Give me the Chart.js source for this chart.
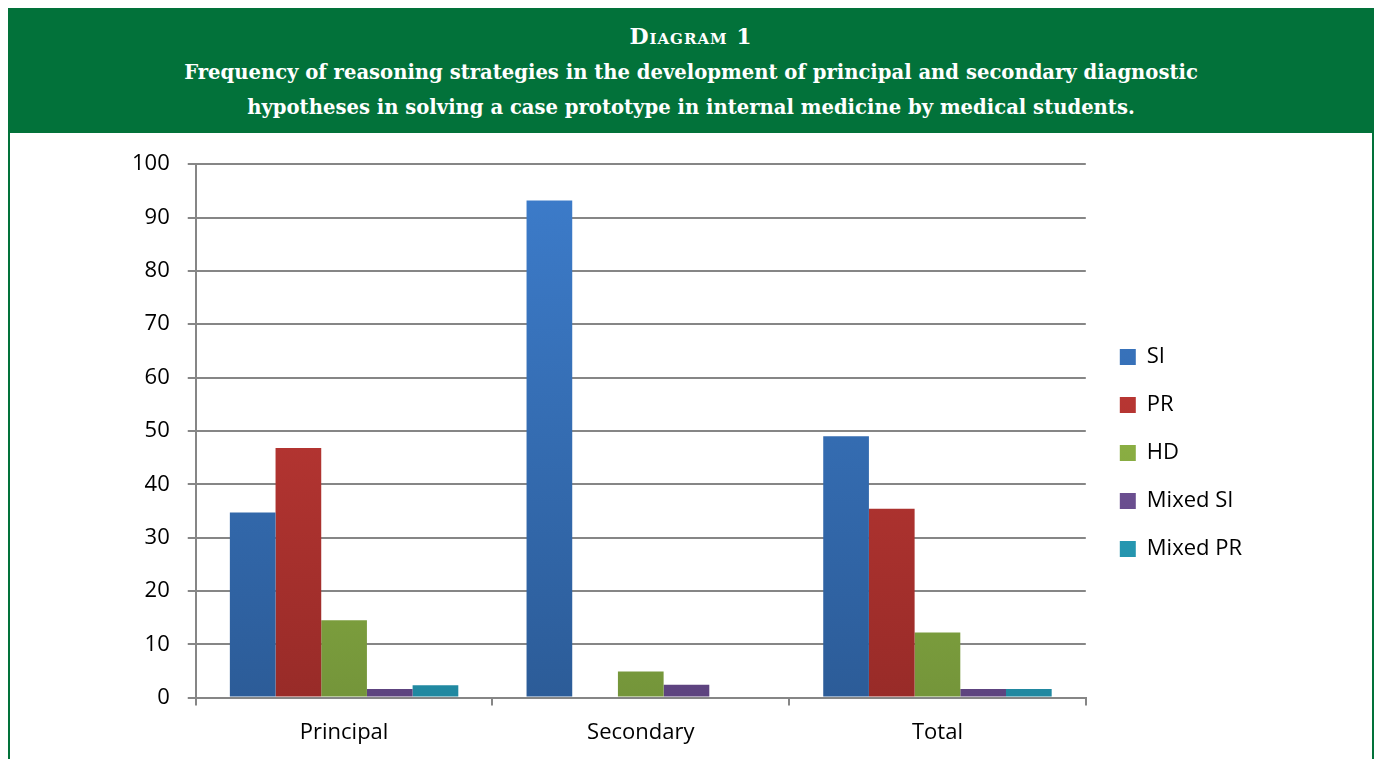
<!DOCTYPE html>
<html>
<head>
<meta charset="utf-8">
<script src="https://cdn.jsdelivr.net/npm/chart.js@4"></script>
<style>
  body { margin: 0; background: #fff; width: 1378px; height: 759px; overflow: hidden; }
  #frame { position: absolute; left: 8px; top: 8px; width: 1362px; height: 760px; border-left: 2px solid #02723a; border-right: 2px solid #02723a; }
  #header { position: absolute; left: 0; top: 0; width: 1362px; height: 125px; background: #02723a; color: #fff;
            font-family: "DejaVu Serif", serif; font-weight: bold; text-align: center; }
  #header .cap { position: absolute; top: 15px; width: 100%; font-size: 22px; font-variant: small-caps; letter-spacing: 1px; }
  #header .l1 { position: absolute; top: 53px; width: 100%; font-size: 19.6px; }
  #header .l2 { position: absolute; top: 88px; width: 100%; font-size: 19.6px; }
  #wrap { position: absolute; left: 0; top: 125px; width: 1362px; height: 634px; }
</style>
</head>
<body>
<div id="frame">
  <div id="header">
    <div class="cap">Diagram 1</div>
    <div class="l1">Frequency of reasoning strategies in the development of principal and secondary diagnostic</div>
    <div class="l2">hypotheses in solving a case prototype in internal medicine by medical students.</div>
  </div>
  <div id="wrap"><canvas id="chart"></canvas></div>
</div>
<script>
// Categories and series
const categories = ['Principal', 'Secondary', 'Total'];
const si      = [34.7, 93.2, 49.0];
const pr      = [46.8, 0,    35.4];
const hd      = [14.5, 4.9,  12.2];
const mixedSi = [1.6,  2.4,  1.6];
const mixedPr = [2.3,  0,    1.6];

// vertical gradient, lighter on top like the Excel bars
function grad(top, bottom) {
  return function (context) {
    const chart = context.chart;
    const area = chart.chartArea;
    if (!area) return bottom;
    const g = chart.ctx.createLinearGradient(0, area.bottom, 0, area.top);
    g.addColorStop(0, bottom);
    g.addColorStop(1, top);
    return g;
  };
}

// nudge the legend up and a bit to the right
const legendShift = {
  id: 'legendShift',
  afterLayout(chart) {
    chart.legend.top -= 9;
    chart.legend.bottom -= 9;
    chart.legend.left += 8;
    chart.legend.right += 8;
  }
};

const ctx = document.getElementById('chart').getContext('2d');
const chart = new Chart(ctx, {
  type: 'bar',
  data: {
    labels: categories,
    datasets: [
      { label: 'SI',       data: si,      backgroundColor: grad('#3d7dcc', '#2c5c98') },
      { label: 'PR',       data: pr,      backgroundColor: grad('#cf3e3a', '#982b28') },
      { label: 'HD',       data: hd,      backgroundColor: grad('#a2c94c', '#74953a') },
      { label: 'Mixed SI', data: mixedSi, backgroundColor: grad('#8060aa', '#5d437f') },
      { label: 'Mixed PR', data: mixedPr, backgroundColor: grad('#31b8d6', '#2088a0') }
    ]
  },
  options: {
    responsive: true,
    maintainAspectRatio: false,
    animation: false,
    events: [],
    barPercentage: 1,
    categoryPercentage: 0.77,
    layout: { padding: { left: 104, top: 31, right: 128, bottom: 7 } },
    scales: {
      x: {
        grid: { display: true, drawOnChartArea: false, color: '#868686', lineWidth: 2, tickLength: 8, offset: true },
        border: { color: '#868686', width: 2 },
        ticks: { color: '#000', font: { family: 'Open Sans', size: 22 }, padding: 14 }
      },
      y: {
        min: 0,
        max: 100,
        grid: { color: '#868686', lineWidth: 2, tickLength: 8 },
        border: { color: '#868686', width: 2 },
        ticks: { stepSize: 10, color: '#000', font: { family: 'Open Sans', size: 22 }, padding: 18 }
      }
    },
    plugins: {
      legend: {
        position: 'right',
        labels: {
          color: '#000',
          font: { family: 'Open Sans', size: 22 },
          boxWidth: 16,
          boxHeight: 16,
          padding: 26
        }
      },
      tooltip: { enabled: false }
    }
  },
  plugins: [legendShift]
});
</script>
</body>
</html>
